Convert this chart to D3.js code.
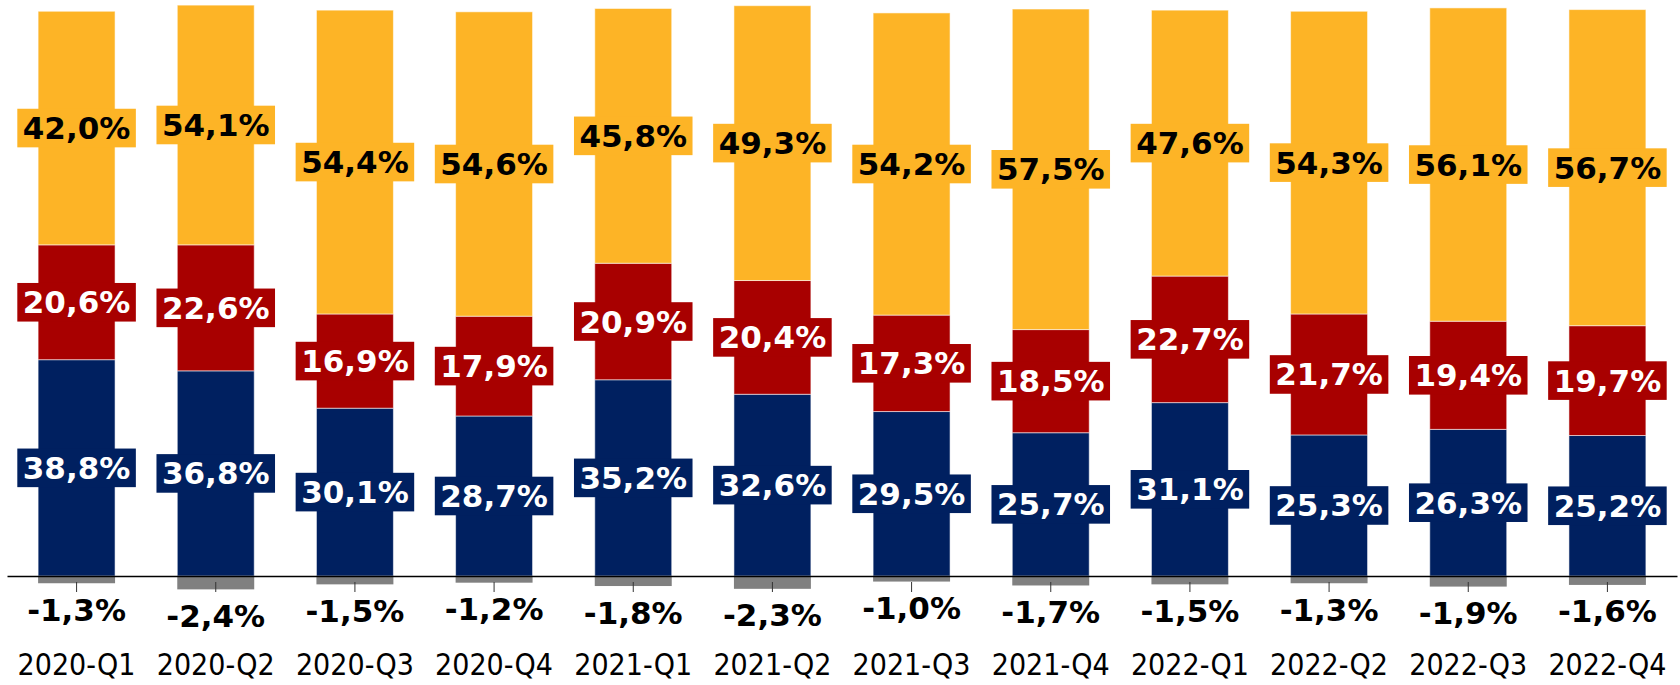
<!DOCTYPE html>
<html>
<head>
<meta charset="utf-8">
<script src="https://cdn.jsdelivr.net/npm/d3@7"></script>
<style>
  html, body { margin: 0; padding: 0; background: #fff; }
  svg { display: block; }
</style>
</head>
<body>
<svg id="chart" width="1680" height="685"></svg>
<script>
const categories = ["2020-Q1","2020-Q2","2020-Q3","2020-Q4","2021-Q1","2021-Q2","2021-Q3","2021-Q4","2022-Q1","2022-Q2","2022-Q3","2022-Q4"];
const navyValues   = [38.8, 36.8, 30.1, 28.7, 35.2, 32.6, 29.5, 25.7, 31.1, 25.3, 26.3, 25.2];
const redValues    = [20.6, 22.6, 16.9, 17.9, 20.9, 20.4, 17.3, 18.5, 22.7, 21.7, 19.4, 19.7];
const yellowLabels = [42.0, 54.1, 54.4, 54.6, 45.8, 49.3, 54.2, 57.5, 47.6, 54.3, 56.1, 56.7];
// yellow segment heights
const yellowHeights = [41.9, 43.0, 54.5, 54.6, 45.7, 49.3, 54.2, 57.5, 47.7, 54.3, 56.2, 56.7];
const negValues    = [-1.3, -2.4, -1.5, -1.2, -1.8, -2.3, -1.0, -1.7, -1.5, -1.3, -1.9, -1.6];

const colors = { navy: "#002060", red: "#A80000", yellow: "#FDB426", grey: "#808080" };

const svg = d3.select("#chart");
const x = d3.scaleBand().domain(categories).range([7, 1677]).paddingInner(0.447).paddingOuter(0.2235);
const y = d3.scaleLinear().domain([0, 100]).range([576, 18.5]);

const fmt = v => d3.format(".1f")(v).replace(".", ",").replace("\u2212", "-") + "%";
const boldFont = "'DejaVu Sans', Verdana, sans-serif";
const catFont = "'DejaVu Sans Condensed', 'DejaVu Sans', sans-serif";

const rows = categories.map((c, i) => {
  const n = navyValues[i], r = redValues[i], yh = yellowHeights[i];
  return { cat: c, segs: [
    { key: "navy", y0: 0, y1: n, label: navyValues[i], textColor: "#fff" },
    { key: "red", y0: n, y1: n + r, label: redValues[i], textColor: "#fff" },
    { key: "yellow", y0: n + r, y1: n + r + yh, label: yellowLabels[i], textColor: "#000" }
  ], neg: negValues[i] };
});

const g = svg.append("g");
const barG = g.selectAll("g.bar").data(rows).join("g").attr("class", "bar");

// negative (grey) segments
barG.append("rect")
  .attr("x", d => x(d.cat))
  .attr("width", x.bandwidth())
  .attr("y", y(0))
  .attr("height", d => y(d.neg) - y(0))
  .attr("fill", colors.grey);

// positive stacked segments
barG.selectAll("rect.seg").data(d => d.segs.map(s => ({ ...s, cat: d.cat }))).join("rect")
  .attr("class", "seg")
  .attr("x", d => x(d.cat))
  .attr("width", x.bandwidth())
  .attr("y", d => y(d.y1))
  .attr("height", d => y(d.y0) - y(d.y1))
  .attr("fill", d => colors[d.key])
  .attr("stroke", "rgba(255,255,255,0.55)")
  .attr("stroke-width", 1);

// axis
const axis = d3.axisBottom(x).tickSize(0).tickFormat("");
const axG = g.append("g").attr("transform", `translate(0,${y(0)})`).call(axis);
axG.select(".domain").attr("stroke", "#000").attr("stroke-width", 1.5);
axG.selectAll(".tick").append("line")
  .attr("y1", 6).attr("y2", 16).attr("stroke", "#333").attr("stroke-width", 1);

// segment labels with boxes
barG.selectAll("g.lbl").data(d => d.segs.map(s => ({ ...s, cat: d.cat }))).join("g")
  .attr("class", "lbl")
  .each(function(d) {
    const gg = d3.select(this);
    const cx = x(d.cat) + x.bandwidth() / 2;
    const cy = (y(d.y0) + y(d.y1)) / 2;
    const t = gg.append("text")
      .attr("x", cx).attr("y", cy)
      .attr("text-anchor", "middle")
      .attr("dominant-baseline", "central")
      .attr("font-family", boldFont)
      .attr("font-weight", "bold")
      .attr("font-size", 31)
      .attr("fill", d.textColor)
      .text(fmt(d.label));
    const bb = t.node().getBBox();
    const w = bb.width + 11, h = 38.6;
    gg.insert("rect", "text")
      .attr("x", cx - w / 2).attr("y", cy - h / 2)
      .attr("width", w).attr("height", h)
      .attr("fill", colors[d.key]);
  });

// negative labels
barG.append("text")
  .attr("x", d => x(d.cat) + x.bandwidth() / 2)
  .attr("y", d => y(d.neg) + 37.5)
  .attr("text-anchor", "middle")
  .attr("font-family", boldFont)
  .attr("font-weight", "bold")
  .attr("font-size", 31)
  .attr("fill", "#000")
  .text(d => fmt(d.neg));

// category labels
barG.append("text")
  .attr("x", d => x(d.cat) + x.bandwidth() / 2)
  .attr("y", 675)
  .attr("text-anchor", "middle")
  .attr("font-family", catFont)
  .attr("font-size", 30)
  .attr("fill", "#000")
  .text(d => d.cat);
</script>
</body>
</html>
